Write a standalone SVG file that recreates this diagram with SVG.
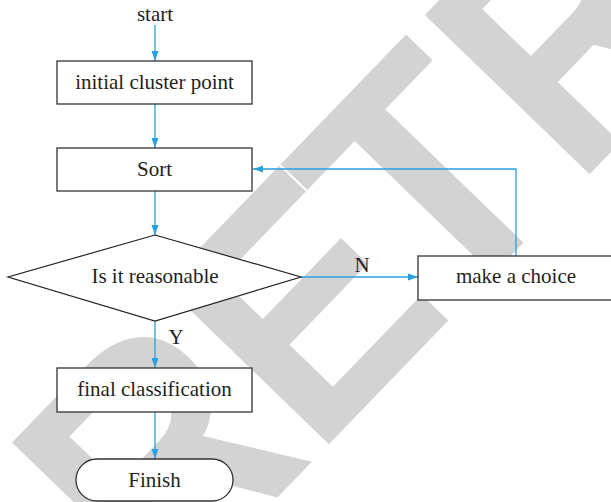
<svg xmlns="http://www.w3.org/2000/svg" width="611" height="502" viewBox="0 0 611 502">
<style>
.node{fill:#fff;stroke:#333;stroke-width:1.3}
.lbl{font-family:"Liberation Serif","Times New Roman",serif;font-size:21px;fill:#231f20;text-anchor:middle}
.conn{fill:none;stroke:#2aa0dc;stroke-width:1.3}
.wm{font-family:"Liberation Sans",Arial,sans-serif;font-weight:bold;font-size:333px;fill:#d3d3d3}
</style>
<defs>
<marker id="ah" markerWidth="10" markerHeight="8" refX="10" refY="4" orient="auto" markerUnits="userSpaceOnUse">
<path d="M0,0.5 L10,4 L0,7.5 z" fill="#2aa0dc"/>
</marker>
</defs>
<rect width="611" height="502" fill="#fff"/>
<g id="watermark" transform="translate(330,443) rotate(-46) scale(0.92,1)">
<text class="wm" x="-262 -24 177 384" y="0">RETRACTED</text>
</g>
<g id="connectors">
<line class="conn" x1="155" y1="25" x2="155" y2="61" marker-end="url(#ah)"/>
<line class="conn" x1="155" y1="104" x2="155" y2="148" marker-end="url(#ah)"/>
<line class="conn" x1="155" y1="191" x2="155" y2="235" marker-end="url(#ah)"/>
<line class="conn" x1="301" y1="277" x2="418" y2="277" marker-end="url(#ah)"/>
<line class="conn" x1="155" y1="321" x2="155" y2="368" marker-end="url(#ah)"/>
<line class="conn" x1="155" y1="412" x2="155" y2="459" marker-end="url(#ah)"/>
<polyline class="conn" points="516,256 516,169 253,169" marker-end="url(#ah)"/>
<text class="lbl" x="362" y="272">N</text>
<text class="lbl" x="176" y="344">Y</text>
</g>
<g id="start"><text class="lbl" x="155" y="21">start</text></g>
<g id="initial"><rect class="node" x="57" y="61" width="195" height="43"/><text class="lbl" x="154.5" y="89">initial cluster point</text></g>
<g id="sort"><rect class="node" x="57" y="148" width="195" height="43"/><text class="lbl" x="154.5" y="176">Sort</text></g>
<g id="decision"><polygon class="node" points="155,235 301,277 155,321 8,277" style="stroke:#222;stroke-width:1.2"/><text class="lbl" x="155" y="283">Is it reasonable</text></g>
<g id="choice"><rect class="node" x="418" y="256" width="196" height="44"/><text class="lbl" x="516" y="283">make a choice</text></g>
<g id="final"><rect class="node" x="57" y="368" width="195" height="44"/><text class="lbl" x="154.5" y="396">final classification</text></g>
<g id="finish"><rect class="node" x="76" y="459" width="157" height="42" rx="21" ry="21"/><text class="lbl" x="154.5" y="487">Finish</text></g>
</svg>
